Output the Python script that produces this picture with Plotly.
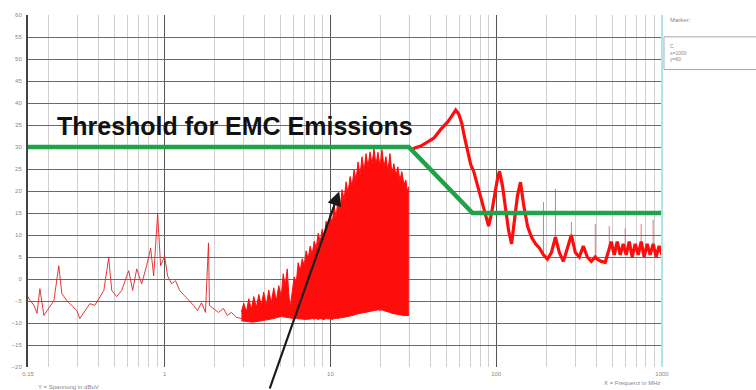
import math
import plotly.graph_objects as go

# ---------------- data ----------------
# low-frequency thin trace (MHz, dBuV)
low_f = [0.150, 0.152, 0.163, 0.170, 0.177, 0.187, 0.201, 0.215, 0.230, 0.240,
         0.257, 0.276, 0.296, 0.308, 0.330, 0.354, 0.379, 0.406, 0.430, 0.460,
         0.480, 0.514, 0.551, 0.607, 0.642, 0.679, 0.727, 0.779, 0.824, 0.859,
         0.908, 0.946, 1.0, 1.042, 1.102, 1.165, 1.231, 1.319, 1.413, 1.494,
         1.579, 1.669, 1.764, 1.839, 1.864, 1.971, 2.112, 2.263, 2.392, 2.529,
         2.710, 2.904]
low_db = [-4.0, -4.5, -6.0, -7.8, -2.2, -8.3, -6.5, -4.9, 3.0, -3.3,
          -4.9, -6.0, -7.2, -9.0, -7.2, -5.6, -6.0, -4.2, -2.6, 4.8,
          -2.6, -4.0, -2.6, 1.9, -2.6, 2.3, -1.1, 3.0, 7.0, 0.7,
          14.9, 3.0, 5.2, 0.7, -1.1, -0.4, -2.6, -3.8, -4.9, -6.0,
          -7.2, -5.4, -7.6, 8.2, -6.0, -6.7, -7.6, -6.7, -8.3, -7.6,
          -8.7, -9.0]

# dense emission band 2.9-30 MHz: upper and lower envelope
band_f = [2.904, 3.0, 3.112, 3.22, 3.336, 3.45, 3.574, 3.70, 3.831, 3.96,
          4.106, 4.25, 4.399, 4.55, 4.716, 4.88, 5.054,
          5.19, 5.34, 5.49, 5.60, 5.72, 5.88, 6.05, 6.22, 6.39, 6.57,
          6.76, 6.95, 7.14, 7.34, 7.55, 7.76, 7.98, 8.21, 8.44, 8.68,
          8.92, 9.17, 9.42, 9.69, 9.96, 10.24, 10.53, 10.83, 11.13, 11.44,
          11.76, 12.09, 12.43, 12.78, 13.14, 13.51, 13.89, 14.28, 14.68, 15.09,
          15.51, 15.95, 16.40, 16.86, 17.33, 17.82, 18.31, 18.83, 19.36, 19.90,
          20.46, 21.03, 21.62, 22.23, 22.86, 23.50, 24.15, 24.83, 25.53, 26.25,
          26.98, 27.74, 28.52, 29.10, 29.74]
band_hi = [-7.5, -5.5, -7.5, -4.5, -7.0, -4.0, -6.5, -3.5, -6.0, -3.0,
           -6.0, -2.5, -5.5, -2.0, -5.0, -1.5, -4.0,
           1.2, -1.5, 2.3, -3.0, -6.5, -3.0, 0.5, -1.0, 3.7, 1.8,
           4.6, 3.0, 6.4, 4.5, 7.5, 5.5, 8.6, 7.0, 10.4, 8.5,
           11.3, 9.5, 13.1, 11.0, 14.9, 12.5, 16.5, 14.0, 18.5, 16.0,
           20.3, 18.0, 22.1, 19.5, 23.3, 21.0, 24.8, 22.5, 26.6, 23.5,
           27.8, 24.5, 28.5, 25.5, 28.9, 26.0, 29.6, 26.0, 28.8, 25.5,
           29.4, 25.5, 27.8, 24.5, 28.5, 24.0, 26.2, 23.5, 25.5, 22.5,
           24.4, 21.5, 22.5, 20.0, 21.0]
band_lo = [-9.5, -9.6, -9.6, -9.7, -9.8, -9.8, -9.7, -9.7, -9.6, -9.5,
           -9.4, -9.3, -9.2, -9.0, -8.8, -8.6, -8.5,
           -8.6, -8.7, -8.8, -8.8, -8.9, -8.9, -9.0, -9.0, -9.0, -9.1,
           -9.1, -9.2, -9.2, -9.2, -9.1, -9.0, -9.1, -9.0, -9.2, -9.0,
           -9.1, -9.2, -9.0, -9.1, -9.0, -9.2, -9.0, -8.9, -9.0, -8.8,
           -8.8, -8.7, -8.7, -8.6, -8.5, -8.3, -8.2, -8.0, -7.9, -7.8,
           -7.7, -7.6, -7.5, -7.4, -7.3, -7.3, -7.2, -7.1, -7.0, -7.1,
           -7.0, -7.2, -7.3, -7.5, -7.6, -7.8, -7.9, -8.0, -8.0, -8.1,
           -8.2, -8.3, -8.3, -8.3, -8.3]

# high-frequency trace 30-1000 MHz
hf_f = [30.6, 32.3, 35.1, 38.1, 42.0, 46.3, 51.0, 53.9, 57.0, 59.4,
        61.9, 64.6, 67.3, 70.2, 73.1, 76.2, 79.5, 82.8, 86.3, 90.0,
        93.8, 97.8, 102.0, 104.8, 109.3, 113.9, 118.8, 123.8, 129.1, 134.5,
        140.2, 146.2, 154.5, 163.3, 172.6, 182.4, 192.8, 203.8, 215.3, 227.6,
        240.5, 254.2, 268.7, 284.0, 300.1, 317.3, 335.3, 354.4, 374.5, 396.0,
        407.1, 430.3, 454.8, 474.2, 494.1, 515.2, 537.0, 559.8, 583.6, 608.4,
        634.2, 661.1, 689.2, 718.5, 748.8, 780.6, 813.7, 848.1, 884.3, 921.7,
        960.7, 1000.0]
hf_db = [29.0, 29.8, 30.2, 31.0, 32.0, 34.0, 35.7, 37.0, 38.4, 37.5,
         35.5, 32.0, 29.0, 26.0, 24.5, 22.0, 19.5, 17.0, 15.0, 12.0,
         15.0, 19.0, 23.0, 24.5, 21.0, 16.0, 11.0, 8.0, 13.0, 19.0,
         22.0, 17.0, 12.0, 9.5, 8.0, 7.0, 5.5, 4.5, 6.0, 9.5,
         6.0, 4.0, 7.0, 10.0, 6.0, 5.0, 7.5, 5.0, 4.0, 5.0,
         4.5, 4.0, 3.8, 6.5, 8.5, 5.5, 8.5, 5.5, 8.0, 5.5,
         8.5, 5.0, 8.0, 5.5, 8.5, 5.0, 8.0, 5.5, 8.0, 5.0,
         7.5, 5.5]

# thin narrow-band spikes above the HF noise
spike_f = [192.8, 227.6, 284.0, 396.0, 480.8, 600.0, 748.8, 884.3]
spike_base = [5.5, 9.5, 10.0, 5.0, 7.0, 7.0, 7.0, 6.5]
spike_top = [17.5, 20.5, 13.0, 12.5, 12.0, 11.5, 12.5, 13.5]

# EMC threshold (limit line)
lim_f = [0.15, 29.7, 72.0, 1000.0]
lim_db = [30, 30, 15, 15]

x_ticks = [0.15, 1, 10, 100, 1000]
x_ticktext = ["0.15", "1", "10", "100", "1000"]

# ---------------- figure ----------------
W, H = 756, 390
ML, MR, MT, MB = 26, 94, 12, 23
PW, PH = W - ML - MR, H - MT - MB

def px(xp):
    return (xp - ML) / PW

def py(yp):
    return (H - MB - yp) / PH

fig = go.Figure()

red = "#ff0d0d"

fig.add_trace(go.Scatter(x=low_f, y=low_db, mode="lines",
                         line=dict(color="rgba(225,35,35,0.9)", width=1),
                         hoverinfo="skip"))
fig.add_trace(go.Scatter(x=band_f, y=band_lo, mode="lines",
                         line=dict(color=red, width=1), hoverinfo="skip"))
fig.add_trace(go.Scatter(x=band_f, y=band_hi, mode="lines", fill="tonexty",
                         fillcolor=red, line=dict(color=red, width=1),
                         hoverinfo="skip"))

sx, sy = [], []
for f, b, t in zip(spike_f, spike_base, spike_top):
    sx += [f, f, None]
    sy += [b, t, None]
fig.add_trace(go.Scatter(x=sx, y=sy, mode="lines",
                         line=dict(color="rgba(225,60,60,0.7)", width=1),
                         hoverinfo="skip"))

fig.add_trace(go.Scatter(x=hf_f, y=hf_db, mode="lines",
                         line=dict(color=red, width=3.2), hoverinfo="skip"))

fig.add_trace(go.Scatter(x=lim_f, y=lim_db, mode="lines",
                         line=dict(color="#1fa34a", width=4.5),
                         hoverinfo="skip"))

minor_vals = [m * d for d in (0.1, 1, 10, 100) for m in range(2, 10) if m * d >= 0.15]

fig.update_xaxes(type="log", range=[math.log10(0.15), 3],
                 tickmode="array", tickvals=x_ticks, ticktext=x_ticktext,
                 showgrid=True, gridcolor="#555555", gridwidth=1,
                 minor=dict(tickmode="array", tickvals=minor_vals,
                            showgrid=True, gridcolor="#cfcfcf", gridwidth=1),
                 ticks="", showline=False, zeroline=False,
                 tickfont=dict(size=6, color="#888888", family="Liberation Sans"),
                 ticklabelstandoff=2)
fig.update_yaxes(range=[-20, 60], tick0=0, dtick=5,
                 showgrid=True, gridcolor="#6a6a6a", gridwidth=1,
                 showline=True, linecolor="#444444", linewidth=2,
                 ticks="", zeroline=False,
                 tickfont=dict(size=6, color="#888888", family="Liberation Sans"),
                 ticklabelstandoff=3)

shapes = [
    dict(type="line", xref="x", yref="paper", x0=29.9, x1=29.9, y0=0, y1=1,
         line=dict(color="rgba(170,225,235,0.6)", width=1), layer="below"),
    dict(type="line", xref="paper", yref="paper", x0=1, x1=1, y0=0, y1=1,
         line=dict(color="rgba(175,228,238,1)", width=2), layer="above"),
    dict(type="rect", xref="paper", yref="paper",
         x0=px(664), x1=px(760), y0=py(67), y1=py(34),
         line=dict(color="#aaaaaa", width=1), fillcolor="rgba(0,0,0,0)"),
]

annotations = [
    dict(text="Threshold for EMC Emissions", x=math.log10(2.67), y=34.8,
         xref="x", yref="y", showarrow=False,
         font=dict(size=25, color="#111111", weight="bold",
                   family="Liberation Sans, Arial, sans-serif")),
    dict(text="", x=math.log10(11.3), y=19.9, xref="x", yref="y",
         showarrow=True, ax=-70, ay=200, arrowhead=2, arrowsize=1.3,
         arrowwidth=2.2, arrowcolor="#1a1a1a"),
    dict(text="Y = Spannung in dBuV", x=px(34), y=py(387), xref="paper", yref="paper",
         xanchor="left", yanchor="middle", showarrow=False,
         font=dict(size=6, color="#888888", family="Liberation Sans")),
    dict(text="X = Frequenz in MHz", x=px(663), y=py(383), xref="paper", yref="paper",
         xanchor="right", yanchor="middle", showarrow=False,
         font=dict(size=6, color="#888888", family="Liberation Sans")),
    dict(text="Marker:", x=px(668), y=py(17), xref="paper", yref="paper",
         xanchor="left", yanchor="middle", showarrow=False,
         font=dict(size=6, color="#888888", family="Liberation Sans")),
    dict(text="C<br>x=1000<br>y=60", x=px(668), y=py(38), xref="paper", yref="paper",
         xanchor="left", yanchor="top", align="left", showarrow=False,
         font=dict(size=5, color="#888888", family="Liberation Sans")),
]

fig.update_layout(width=W, height=H,
                  margin=dict(l=ML, r=MR, t=MT, b=MB, pad=0),
                  paper_bgcolor="white", plot_bgcolor="white",
                  showlegend=False, shapes=shapes, annotations=annotations)

fig.write_html("out.html")
